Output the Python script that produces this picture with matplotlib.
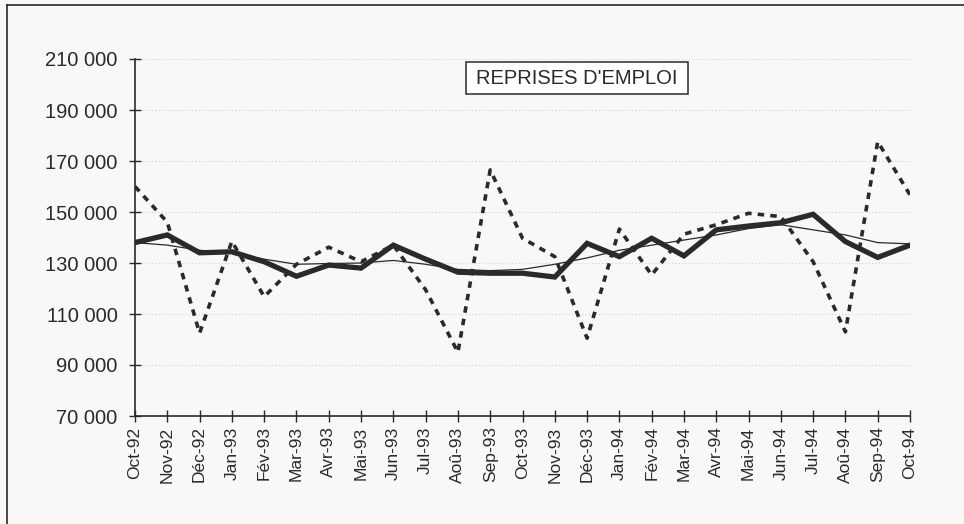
import matplotlib
matplotlib.use("Agg")
import matplotlib.pyplot as plt
from matplotlib.lines import Line2D
from matplotlib.patches import Rectangle

months = ["Oct-92", "Nov-92", "Déc-92", "Jan-93", "Fév-93", "Mar-93", "Avr-93", "Mai-93",
          "Jun-93", "Jul-93", "Aoû-93", "Sep-93", "Oct-93", "Nov-93", "Déc-93", "Jan-94",
          "Fév-94", "Mar-94", "Avr-94", "Mai-94", "Jun-94", "Jul-94", "Aoû-94", "Sep-94", "Oct-94"]

brut = [160000, 146000, 102500, 138500, 116800, 129500, 136200, 130500, 137000, 119500,
        95000, 166500, 139700, 132500, 100500, 143300, 125300, 141300, 145000, 149500,
        148200, 130500, 103000, 177600, 156700]

cvs = [138000, 141000, 134000, 134400, 130500, 124800, 129200, 128000, 137000, 131500,
       126400, 126000, 126000, 124500, 137700, 132500, 139700, 132800, 143000, 144500,
       145800, 149100, 138400, 132200, 137000]

tendance = [138000, 137000, 135000, 134000, 131500, 129500, 129800, 130000, 131000, 129500,
            127500, 127000, 127500, 129500, 132000, 135000, 137000, 139000, 141000, 143500,
            145000, 143000, 141000, 138000, 137500]

yticks = [70000, 90000, 110000, 130000, 150000, 170000, 190000, 210000]
ytick_labels = ["70 000", "90 000", "110 000", "130 000", "150 000", "170 000", "190 000", "210 000"]
title = "REPRISES D'EMPLOI"

plt.rcParams['font.family'] = ['Liberation Sans', 'DejaVu Sans']
ink = '#2a2a2a'
bg = '#f8f8f6'

fig = plt.figure(figsize=(9.64, 5.24), dpi=100, facecolor=bg)
ax = fig.add_axes([135/964, 1-416/524, (910-135)/964, (416-59)/524])
ax.set_facecolor(bg)

x = list(range(len(months)))
ax.plot(x, brut, color=ink, lw=2.6, linestyle=(0, (1.8, 1.7)), solid_capstyle='butt', zorder=3)
ax.plot(x, tendance, color=ink, lw=0.9, zorder=4)
ax.plot(x, cvs, color=ink, lw=3.8, solid_joinstyle='miter', zorder=5)

ax.set_xlim(0, len(months)-1)
ax.set_ylim(yticks[0], yticks[-1])
ax.set_yticks(yticks)
ax.set_yticklabels(ytick_labels, fontsize=14.5, color=ink)
ax.set_xticks(x)
ax.set_xticklabels(months, rotation=90, fontsize=12.5, color=ink)

for y in yticks[1:]:
    ax.axhline(y, color='#d2d2d2', lw=0.8, linestyle=(0, (1, 2)), zorder=1)

for s in ['top', 'right']:
    ax.spines[s].set_visible(False)
for s in ['left', 'bottom']:
    ax.spines[s].set_color(ink)
    ax.spines[s].set_linewidth(1.2)
ax.tick_params(axis='both', direction='inout', length=9, width=1.0, color=ink, pad=3)
ax.tick_params(axis='y', pad=8)

# title box
fig.add_artist(Rectangle((466/964, 1-94/524), (688-466)/964, 32/524, transform=fig.transFigure,
                         facecolor='white', edgecolor=ink, lw=1.1, zorder=10))
fig.text(577/964, 1-78.5/524, title, ha='center', va='center', fontsize=14.5, color=ink, zorder=11)

# page frame
fig.add_artist(Line2D([7/964, 7/964], [0, 1-5/524], transform=fig.transFigure, color=ink, lw=1.2))
fig.add_artist(Line2D([7/964, 1], [1-5/524, 1-5/524], transform=fig.transFigure, color=ink, lw=1.2))

fig.savefig("out.png", dpi=100, facecolor=bg)
